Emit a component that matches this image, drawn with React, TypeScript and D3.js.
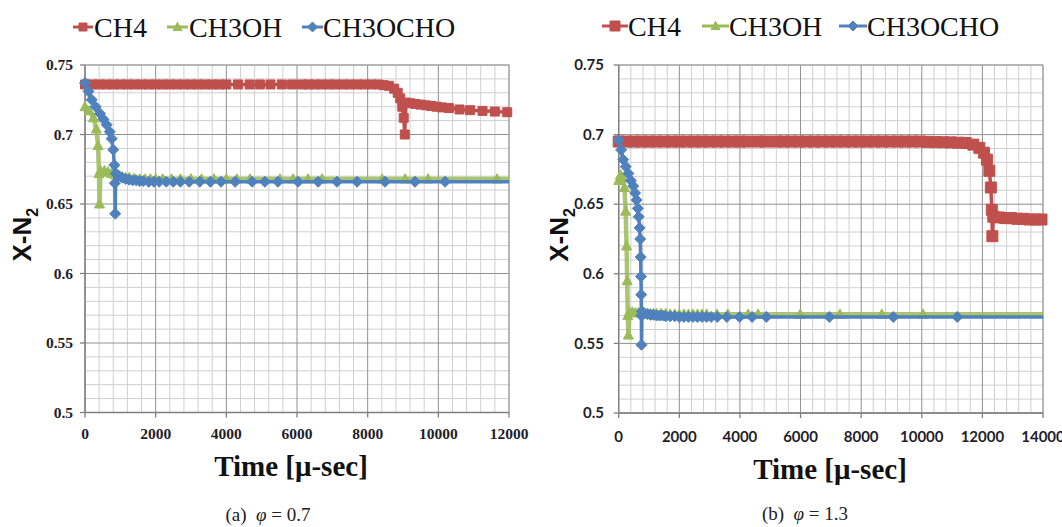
import React from "react";
import * as d3 from "d3";

// ---------- DATA ----------
type Pt = [number, number];

const seriesNames = ["CH4", "CH3OH", "CH3OCHO"];
const yTicks = [0.5, 0.55, 0.6, 0.65, 0.7, 0.75];
const yTickLabels = ["0.5", "0.55", "0.6", "0.65", "0.7", "0.75"];
const xTicksA = [0, 2000, 4000, 6000, 8000, 10000, 12000];
const xTicksB = [0, 2000, 4000, 6000, 8000, 10000, 12000, 14000];

// Panel (a) phi = 0.7
const ch4A: Pt[] = [
  [0, 0.736], [200, 0.736], [400, 0.736], [600, 0.736], [800, 0.736], [1000, 0.736],
  [1200, 0.736], [1400, 0.736], [1600, 0.736], [1800, 0.736], [2000, 0.736], [2200, 0.736],
  [2400, 0.736], [2600, 0.736], [2800, 0.736], [3000, 0.736], [3200, 0.736], [3400, 0.736],
  [3600, 0.736], [3800, 0.736], [4000, 0.736], [4330, 0.736], [4660, 0.736], [4950, 0.736],
  [5250, 0.736], [5570, 0.736], [5860, 0.736], [6140, 0.736], [6320, 0.736], [6500, 0.736],
  [6700, 0.736], [6900, 0.736], [7100, 0.736], [7300, 0.736], [7500, 0.736], [7700, 0.736],
  [7900, 0.736], [8100, 0.736], [8300, 0.736], [8450, 0.7355], [8600, 0.735], [8750, 0.733],
  [8850, 0.73], [8920, 0.726], [8980, 0.72], [9020, 0.712], [9050, 0.7], [9080, 0.723],
  [9200, 0.7225], [9350, 0.722], [9500, 0.7215], [9650, 0.721], [9800, 0.7205], [9950, 0.72],
  [10100, 0.7195], [10300, 0.719], [10600, 0.718], [10900, 0.7175], [11250, 0.717],
  [11600, 0.7165], [11950, 0.716],
];
const ch3ohA: Pt[] = [
  [0, 0.72], [120, 0.717], [240, 0.712], [320, 0.704], [370, 0.692], [395, 0.672],
  [410, 0.65], [440, 0.674], [550, 0.674], [650, 0.673], [750, 0.672], [850, 0.671],
  [950, 0.67], [1050, 0.6695], [1150, 0.669], [1250, 0.669], [1400, 0.6685], [1550, 0.668],
  [1700, 0.668], [1850, 0.668], [2000, 0.668], [2200, 0.668], [2450, 0.668], [2700, 0.668],
  [3000, 0.668], [3300, 0.668], [3650, 0.668], [4000, 0.668], [4300, 0.668], [4670, 0.668],
  [5520, 0.668], [5890, 0.668], [6310, 0.668], [6710, 0.668], [8410, 0.668], [9060, 0.668],
  [9710, 0.668], [11660, 0.668], [12000, 0.668],
];
const ch3ochoA: Pt[] = [
  [0, 0.737], [100, 0.731], [190, 0.725], [300, 0.72], [425, 0.715], [520, 0.711],
  [614, 0.707], [700, 0.702], [755, 0.697], [800, 0.689], [830, 0.678], [845, 0.665],
  [855, 0.643], [870, 0.672], [950, 0.6705], [1050, 0.669], [1150, 0.668], [1250, 0.6675],
  [1350, 0.667], [1450, 0.667], [1550, 0.6665], [1650, 0.6665], [1800, 0.666], [1950, 0.666],
  [2100, 0.666], [2300, 0.666], [2500, 0.666], [2700, 0.666], [2950, 0.666], [3250, 0.666],
  [3550, 0.666], [3850, 0.666], [4250, 0.666], [4730, 0.666], [5090, 0.666], [5460, 0.666],
  [6030, 0.666], [6600, 0.666], [7130, 0.666], [7700, 0.666], [8490, 0.666], [9340, 0.666],
  [10190, 0.666], [12000, 0.666],
];

// Panel (b) phi = 1.3
const ch4B: Pt[] = [
  [0, 0.695], [250, 0.695], [500, 0.695], [750, 0.695], [1000, 0.695], [1250, 0.695],
  [1500, 0.695], [1750, 0.695], [2000, 0.695], [2250, 0.695], [2500, 0.695], [2750, 0.695],
  [3000, 0.695], [3250, 0.695], [3500, 0.695], [3750, 0.695], [4000, 0.695], [4250, 0.695],
  [4600, 0.695], [4850, 0.695], [5200, 0.695], [5450, 0.695], [5700, 0.695], [5950, 0.695],
  [6200, 0.695], [6450, 0.695], [6700, 0.695], [6950, 0.695], [7200, 0.695], [7450, 0.695],
  [7700, 0.695], [7950, 0.695], [8200, 0.695], [8450, 0.695], [8700, 0.695], [8950, 0.695],
  [9200, 0.695], [9450, 0.695], [9700, 0.695], [9950, 0.695], [10200, 0.6948], [10450, 0.6946],
  [10700, 0.6945], [10950, 0.6944], [11200, 0.6942], [11450, 0.694], [11700, 0.6928],
  [11900, 0.6905], [12050, 0.687], [12150, 0.682], [12230, 0.674], [12280, 0.662],
  [12310, 0.646], [12330, 0.627], [12360, 0.641], [12550, 0.6405], [12750, 0.64],
  [12950, 0.64], [13150, 0.6395], [13350, 0.6395], [13550, 0.639], [13750, 0.639],
  [13950, 0.639],
];
const ch3ohB: Pt[] = [
  [0, 0.667], [60, 0.671], [130, 0.669], [190, 0.662], [230, 0.645], [260, 0.62],
  [280, 0.595], [300, 0.57], [320, 0.556], [350, 0.5725], [450, 0.5725], [550, 0.572],
  [650, 0.572], [750, 0.572], [850, 0.572], [950, 0.5715], [1050, 0.5715], [1150, 0.5715],
  [1250, 0.5715], [1400, 0.5715], [1550, 0.5715], [1700, 0.571], [1850, 0.571], [2000, 0.571],
  [2150, 0.571], [2300, 0.571], [2450, 0.571], [2600, 0.571], [2750, 0.571], [2900, 0.571],
  [3240, 0.571], [3600, 0.571], [4270, 0.571], [4600, 0.571], [5990, 0.571], [7300, 0.571],
  [8680, 0.571], [10040, 0.571], [14000, 0.571],
];
const ch3ochoB: Pt[] = [
  [0, 0.696], [80, 0.689], [150, 0.682], [230, 0.677], [320, 0.672], [400, 0.667],
  [480, 0.663], [540, 0.658], [590, 0.653], [630, 0.647], [660, 0.641], [690, 0.633],
  [710, 0.625], [725, 0.612], [735, 0.598], [742, 0.585], [748, 0.57], [752, 0.549],
  [765, 0.573], [850, 0.5715], [950, 0.571], [1050, 0.5705], [1150, 0.5705], [1250, 0.57],
  [1350, 0.57], [1450, 0.57], [1550, 0.5695], [1700, 0.5695], [1850, 0.5695], [2000, 0.569],
  [2150, 0.569], [2300, 0.569], [2450, 0.569], [2600, 0.569], [2750, 0.569], [2900, 0.569],
  [3050, 0.569], [3250, 0.569], [3570, 0.569], [3990, 0.569], [4400, 0.569], [4870, 0.569],
  [6950, 0.569], [9060, 0.569], [11170, 0.569], [14000, 0.569],
];

// ---------- STYLE ----------
const COLORS = ["#C0504D", "#9BBB59", "#4F81BD"];
const MARKERS = ["square", "triangle", "diamond"];

function markerPath(type: string, s: number): string {
  const h = s / 2;
  if (type === "square") return `M${-h},${-h}H${h}V${h}H${-h}Z`;
  if (type === "triangle") return `M0,${-h * 1.05}L${h},${h * 0.8}L${-h},${h * 0.8}Z`;
  return `M0,${-h}L${h},0L0,${h}L${-h},0Z`;
}

type PanelCfg = {
  left: number; right: number; top: number; bottom: number;
  xMax: number; xTicks: number[];
  series: Pt[][];
  tickFont: string; tickSize: number; tickRightX: number; xTickBaseline: number;
  yTitleX: number; xTitleX: number; xTitleY: number;
  markerSizes: number[];
  legend: { lineX0: number; lineX1: number; textX: number }[];
  legendY: number;
  caption: string; captionX: number; captionY: number;
};

const panelA: PanelCfg = {
  left: 85, right: 509, top: 65, bottom: 412.5,
  xMax: 12000, xTicks: xTicksA,
  series: [ch4A, ch3ohA, ch3ochoA],
  tickFont: "'Liberation Serif', serif", tickSize: 15.5, tickRightX: 73, xTickBaseline: 439,
  yTitleX: 22, xTitleX: 291, xTitleY: 476,
  markerSizes: [9, 10, 11],
  legend: [
    { lineX0: 73, lineX1: 93, textX: 94 },
    { lineX0: 167, lineX1: 188, textX: 189 },
    { lineX0: 302, lineX1: 323, textX: 323 },
  ],
  legendY: 37,
  caption: "(a)", captionX: 268, captionY: 521,
};

const panelB: PanelCfg = {
  left: 618.7, right: 1043, top: 65, bottom: 413,
  xMax: 14000, xTicks: xTicksB,
  series: [ch4B, ch3ohB, ch3ochoB],
  tickFont: "Lato, 'Open Sans', sans-serif", tickSize: 15, tickRightX: 604, xTickBaseline: 442,
  yTitleX: 559, xTitleX: 830, xTitleY: 479,
  markerSizes: [11, 10, 11],
  legend: [
    { lineX0: 602, lineX1: 628, textX: 628 },
    { lineX0: 702, lineX1: 729, textX: 729 },
    { lineX0: 839, lineX1: 867, textX: 867 },
  ],
  legendY: 36,
  caption: "(b)", captionX: 805, captionY: 520,
};
const captionValues = ["0.7", "1.3"];

function Panel({ cfg, phi }: { cfg: PanelCfg; phi: string }) {
  const x = d3.scaleLinear().domain([0, cfg.xMax]).range([cfg.left, cfg.right]);
  const y = d3.scaleLinear().domain([0.5, 0.75]).range([cfg.bottom, cfg.top]);
  const minorX = d3.range(0, cfg.xMax + 1, 400).filter((v) => v % 2000 !== 0);
  const minorY = d3.range(1, 25).map((i) => 0.5 + i * 0.01).filter((_, i) => (i + 1) % 5 !== 0);
  const line = d3.line<Pt>().x((d) => x(d[0])).y((d) => y(d[1]));

  return (
    <g>
      {/* grid */}
      {minorX.map((v) => (
        <line key={"mx" + v} x1={x(v)} x2={x(v)} y1={cfg.top} y2={cfg.bottom} stroke="#cfcfcf" strokeWidth={1} />
      ))}
      {minorY.map((v, i) => (
        <line key={"my" + i} x1={cfg.left} x2={cfg.right} y1={y(v)} y2={y(v)} stroke="#cfcfcf" strokeWidth={1} />
      ))}
      {cfg.xTicks.map((v) => (
        <line key={"gx" + v} x1={x(v)} x2={x(v)} y1={cfg.top} y2={cfg.bottom} stroke="#8f8f8f" strokeWidth={1} />
      ))}
      {yTicks.map((v) => (
        <line key={"gy" + v} x1={cfg.left} x2={cfg.right} y1={y(v)} y2={y(v)} stroke="#8f8f8f" strokeWidth={1} />
      ))}
      <rect x={cfg.left} y={cfg.top} width={cfg.right - cfg.left} height={cfg.bottom - cfg.top} fill="none" stroke="#a6a6a6" />
      {/* axes */}
      <line x1={cfg.left} x2={cfg.left} y1={cfg.top} y2={cfg.bottom} stroke="#7f7f7f" strokeWidth={1.3} />
      <line x1={cfg.left} x2={cfg.right} y1={cfg.bottom} y2={cfg.bottom} stroke="#7f7f7f" strokeWidth={1.3} />
      {yTicks.map((v) => (
        <line key={"ty" + v} x1={cfg.left - 5} x2={cfg.left} y1={y(v)} y2={y(v)} stroke="#7f7f7f" strokeWidth={1.3} />
      ))}
      {cfg.xTicks.map((v) => (
        <line key={"tx" + v} x1={x(v)} x2={x(v)} y1={cfg.bottom} y2={cfg.bottom + 5} stroke="#7f7f7f" strokeWidth={1.3} />
      ))}
      {/* tick labels */}
      {yTicks.map((v, i) => (
        <text key={"ly" + v} x={cfg.tickRightX} y={y(v)} dy="0.35em" textAnchor="end"
          fontFamily={cfg.tickFont} fontWeight="bold" fontSize={cfg.tickSize} fill="#1f1f2a">
          {yTickLabels[i]}
        </text>
      ))}
      {cfg.xTicks.map((v) => (
        <text key={"lx" + v} x={x(v)} y={cfg.xTickBaseline} textAnchor="middle"
          fontFamily={cfg.tickFont} fontWeight="bold" fontSize={cfg.tickSize} fill="#1f1f2a">
          {String(v)}
        </text>
      ))}
      {/* series */}
      {cfg.series.map((data, si) => (
        <g key={"s" + si}>
          <path d={line(data) || ""} fill="none" stroke={COLORS[si]} strokeWidth={si === 1 ? 4.5 : 3.5}
            strokeLinejoin="round" opacity={si === 1 ? 0.85 : 1} />
          {data.filter((d) => d[0] < cfg.xMax).map((d, i) => (
            <path key={i} transform={`translate(${x(d[0])},${y(d[1])})`}
              d={markerPath(MARKERS[si], cfg.markerSizes[si])} fill={COLORS[si]} stroke={COLORS[si]} strokeWidth={1} />
          ))}
        </g>
      ))}
      {/* axis titles */}
      <text transform={`translate(${cfg.yTitleX},${(cfg.top + cfg.bottom) / 2 - 4}) rotate(-90)`} textAnchor="middle"
        dy="0.35em" fontFamily="'Liberation Sans', Arial, sans-serif" fontWeight="bold" fontSize={26} fill="#111">
        X-N<tspan fontSize={16} dy={7}>2</tspan>
      </text>
      <text x={cfg.xTitleX} y={cfg.xTitleY} textAnchor="middle" fontFamily="'Liberation Serif', serif"
        fontWeight="bold" fontSize={29} fill="#111">
        Time [μ-sec]
      </text>
      {/* legend */}
      {cfg.legend.map((l, i) => (
        <g key={"lg" + i}>
          <line x1={l.lineX0} x2={l.lineX1} y1={cfg.legendY - 10} y2={cfg.legendY - 10} stroke={COLORS[i]} strokeWidth={3} />
          <path transform={`translate(${(l.lineX0 + l.lineX1) / 2},${cfg.legendY - 10})`}
            d={markerPath(MARKERS[i], cfg.markerSizes[i] - 1)} fill={COLORS[i]} stroke={COLORS[i]} />
          <text x={l.textX} y={cfg.legendY} fontFamily="'Liberation Serif', serif" fontSize={28} fill="#111">
            {seriesNames[i]}
          </text>
        </g>
      ))}
      {/* caption */}
      <text x={cfg.captionX} y={cfg.captionY} textAnchor="middle" fontFamily="'Liberation Serif', serif" fontSize={19} fill="#222">
        {cfg.caption}{"\u2002"}<tspan fontStyle="italic">φ</tspan>{" = "}{phi}
      </text>
    </g>
  );
}

export default function App() {
  return (
    <svg width={1062} height={527} style={{ position: "absolute", left: 0, top: 0, background: "#fff" }}>
      <rect width={1062} height={527} fill="#fff" />
      <Panel cfg={panelA} phi={captionValues[0]} />
      <Panel cfg={panelB} phi={captionValues[1]} />
    </svg>
  );
}
